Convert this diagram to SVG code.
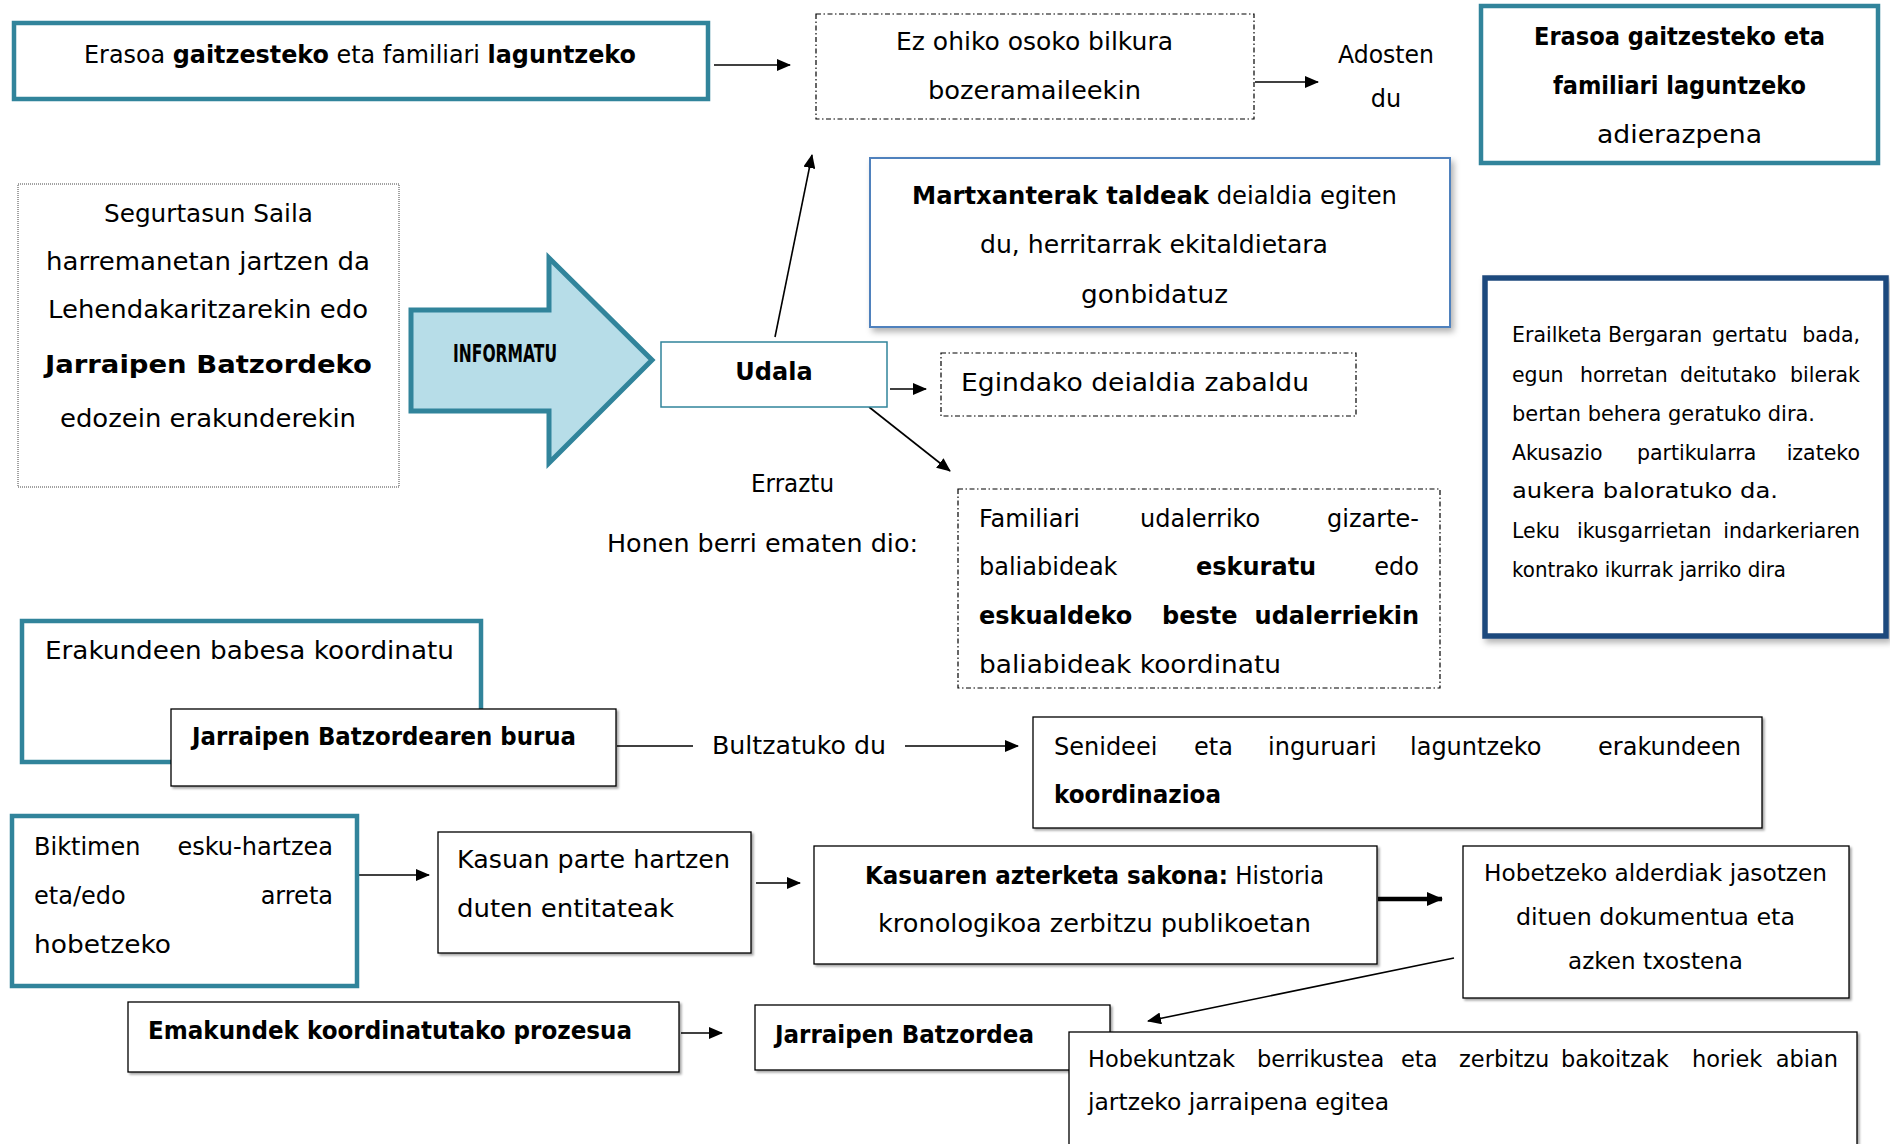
<svg xmlns="http://www.w3.org/2000/svg" width="1890" height="1144" viewBox="0 0 1890 1144">
<style>
text{font-family:"DejaVu Sans","Liberation Sans",sans-serif;font-size:24px;fill:#000}
.b{font-weight:bold}
.s{font-size:20.5px}
.m{font-size:22.5px}
.teal{fill:#fff;stroke:#31849B;stroke-width:4.5}
.thin{fill:#fff;stroke:#000;stroke-width:1.3}
.dd{fill:#fff;stroke:#000;stroke-width:1.2;stroke-dasharray:5 2.5 1.5 2.5}
.con{stroke:#000;stroke-width:1.6;fill:none}
.thick{stroke-width:4.5}
</style>
<defs>
<marker id="ah" viewBox="0 0 14 12" refX="13" refY="6" markerWidth="14" markerHeight="12" markerUnits="userSpaceOnUse" orient="auto"><path d="M0,0 L14,6 L0,12 z" fill="#000"/></marker>
<marker id="ahb" viewBox="0 0 16 14" refX="15" refY="7" markerWidth="16" markerHeight="15" markerUnits="userSpaceOnUse" orient="auto"><path d="M0,0 L16,7 L0,14 z" fill="#000"/></marker>
<filter id="sh" x="-5%" y="-5%" width="115%" height="115%"><feDropShadow dx="2" dy="2" stdDeviation="1.2" flood-color="#000" flood-opacity="0.35"/></filter>
<filter id="shl" x="-5%" y="-5%" width="115%" height="115%"><feDropShadow dx="3" dy="4" stdDeviation="3" flood-color="#000" flood-opacity="0.3"/></filter>
</defs>

<g id="connectors">
<line class="con" x1="714" y1="65" x2="790" y2="65" marker-end="url(#ah)"/>
<line class="con" x1="1255" y1="82" x2="1318" y2="82" marker-end="url(#ah)"/>
<line class="con" x1="775" y1="337" x2="812" y2="155" marker-end="url(#ah)"/>
<line class="con" x1="890" y1="389" x2="926" y2="389" marker-end="url(#ah)"/>
<line class="con" x1="869" y1="407" x2="950" y2="471" marker-end="url(#ah)"/>
<line class="con" x1="617" y1="746" x2="693" y2="746"/>
<line class="con" x1="905" y1="746" x2="1018" y2="746" marker-end="url(#ah)"/>
<line class="con" x1="358" y1="875" x2="429" y2="875" marker-end="url(#ah)"/>
<line class="con" x1="756" y1="883" x2="800" y2="883" marker-end="url(#ah)"/>
<line class="con thick" x1="1378" y1="899" x2="1442" y2="899" marker-end="url(#ahb)"/>
<line class="con" x1="1454" y1="958" x2="1148" y2="1021" marker-end="url(#ah)"/>
<line class="con" x1="681" y1="1033" x2="722" y2="1033" marker-end="url(#ah)"/>
</g>

<g id="n-erasoa">
<rect class="teal" x="14" y="23" width="694" height="76"/>
<text x="84" y="63" textLength="552" lengthAdjust="spacingAndGlyphs">Erasoa <tspan class="b">gaitzesteko</tspan> eta familiari <tspan class="b">laguntzeko</tspan></text>
</g>

<g id="n-ezohiko">
<rect class="dd" x="816" y="14" width="438" height="105"/>
<text x="896" y="50" textLength="277" lengthAdjust="spacingAndGlyphs">Ez ohiko osoko bilkura</text>
<text x="928" y="99" textLength="213" lengthAdjust="spacingAndGlyphs">bozeramaileekin</text>
</g>

<g id="n-adosten">
<text x="1338" y="63" textLength="96" lengthAdjust="spacingAndGlyphs">Adosten</text>
<text x="1386" y="107" text-anchor="middle">du</text>
</g>

<g id="n-adierazpena">
<rect class="teal" x="1481" y="6" width="397" height="157"/>
<text class="b" x="1534" y="45" textLength="291" lengthAdjust="spacingAndGlyphs">Erasoa gaitzesteko eta</text>
<text class="b" x="1553" y="94" textLength="253" lengthAdjust="spacingAndGlyphs">familiari laguntzeko</text>
<text x="1597" y="143" textLength="165" lengthAdjust="spacingAndGlyphs">adierazpena</text>
</g>

<g id="n-segurtasun">
<rect x="18" y="184" width="381" height="303" fill="#fff" stroke="#444" stroke-width="1" stroke-dasharray="1 1"/>
<text x="104" y="222" textLength="209" lengthAdjust="spacingAndGlyphs">Segurtasun Saila</text>
<text x="46" y="270" textLength="324" lengthAdjust="spacingAndGlyphs">harremanetan jartzen da</text>
<text x="48" y="318" textLength="320" lengthAdjust="spacingAndGlyphs">Lehendakaritzarekin edo</text>
<text class="b" x="45" y="373" font-size="29" textLength="327" lengthAdjust="spacingAndGlyphs">Jarraipen Batzordeko</text>
<text x="60" y="427" textLength="296" lengthAdjust="spacingAndGlyphs">edozein erakunderekin</text>
</g>

<g id="n-informatu">
<polygon points="411,310 549,310 549,258 652,360 549,463 549,411 411,411" fill="#B7DDE8" stroke="#31849B" stroke-width="5" stroke-linejoin="miter"/>
<text class="b" x="453" y="362" font-size="15" textLength="104" lengthAdjust="spacingAndGlyphs">INFORMATU</text>
</g>

<g id="n-udala">
<rect x="661" y="342" width="226" height="65" fill="#fff" stroke="#31849B" stroke-width="1.5"/>
<text class="b" x="774" y="380" text-anchor="middle">Udala</text>
</g>

<g id="n-martxanterak">
<rect x="870" y="158" width="580" height="169" fill="#fff" stroke="#4F81BD" stroke-width="2" filter="url(#shl)"/>
<text x="912" y="204" textLength="485" lengthAdjust="spacingAndGlyphs"><tspan class="b">Martxanterak taldeak</tspan> deialdia egiten</text>
<text x="980" y="253" textLength="348" lengthAdjust="spacingAndGlyphs">du, herritarrak ekitaldietara</text>
<text x="1081" y="303" textLength="147" lengthAdjust="spacingAndGlyphs">gonbidatuz</text>
</g>

<g id="n-egindako">
<rect class="dd" x="941" y="353" width="415" height="63"/>
<text x="961" y="391" textLength="348" lengthAdjust="spacingAndGlyphs">Egindako deialdia zabaldu</text>
</g>

<g id="n-erraztu">
<text x="751" y="492" textLength="83" lengthAdjust="spacingAndGlyphs">Erraztu</text>
<text x="607" y="552" textLength="311" lengthAdjust="spacingAndGlyphs">Honen berri ematen dio:</text>
</g>

<g id="n-familiari">
<rect class="dd" x="958" y="489" width="482" height="199"/>
<text y="527"><tspan x="979">Familiari </tspan><tspan x="1140">udalerriko </tspan><tspan x="1419" text-anchor="end">gizarte-</tspan></text>
<text y="575"><tspan x="979">baliabideak </tspan><tspan x="1196" class="b">eskuratu </tspan><tspan x="1419" text-anchor="end">edo</tspan></text>
<text y="624" class="b"><tspan x="979">eskualdeko </tspan><tspan x="1162">beste </tspan><tspan x="1419" text-anchor="end">udalerriekin</tspan></text>
<text x="979" y="673" textLength="302" lengthAdjust="spacingAndGlyphs">baliabideak koordinatu</text>
</g>

<g id="n-erailketa">
<rect x="1485" y="278" width="401" height="358" fill="#fff" stroke="#1F497D" stroke-width="5.5" filter="url(#shl)"/>
<text class="s" y="342"><tspan x="1512">Erailketa </tspan><tspan x="1608">Bergaran </tspan><tspan x="1712">gertatu </tspan><tspan x="1860" text-anchor="end">bada,</tspan></text>
<text class="s" y="382"><tspan x="1512">egun </tspan><tspan x="1580">horretan </tspan><tspan x="1680">deitutako </tspan><tspan x="1860" text-anchor="end">bilerak</tspan></text>
<text class="s" x="1512" y="421" textLength="303" lengthAdjust="spacingAndGlyphs">bertan behera geratuko dira.</text>
<text class="s" y="460"><tspan x="1512">Akusazio </tspan><tspan x="1637">partikularra </tspan><tspan x="1860" text-anchor="end">izateko</tspan></text>
<text class="s" x="1512" y="498" textLength="266" lengthAdjust="spacingAndGlyphs">aukera baloratuko da.</text>
<text class="s" y="538"><tspan x="1512">Leku </tspan><tspan x="1577">ikusgarrietan </tspan><tspan x="1860" text-anchor="end">indarkeriaren</tspan></text>
<text class="s" x="1512" y="577" textLength="274" lengthAdjust="spacingAndGlyphs">kontrako ikurrak jarriko dira</text>
</g>

<g id="n-erakundeen">
<rect class="teal" x="22" y="621" width="459" height="141"/>
<text x="45" y="659" textLength="409" lengthAdjust="spacingAndGlyphs">Erakundeen babesa koordinatu</text>
</g>

<g id="n-burua">
<rect class="thin" x="171" y="709" width="445" height="77" filter="url(#sh)"/>
<text class="b" x="192" y="745" textLength="384" lengthAdjust="spacingAndGlyphs">Jarraipen Batzordearen burua</text>
</g>

<g id="n-bultzatuko">
<text x="712" y="754" textLength="174" lengthAdjust="spacingAndGlyphs">Bultzatuko du</text>
</g>

<g id="n-senideei">
<rect class="thin" x="1033" y="717" width="729" height="111" filter="url(#sh)"/>
<text y="755"><tspan x="1054">Senideei </tspan><tspan x="1194">eta </tspan><tspan x="1268">inguruari </tspan><tspan x="1410">laguntzeko </tspan><tspan x="1741" text-anchor="end">erakundeen</tspan></text>
<text class="b" x="1054" y="803" textLength="167" lengthAdjust="spacingAndGlyphs">koordinazioa</text>
</g>

<g id="n-biktimen">
<rect class="teal" x="12" y="816" width="345" height="170"/>
<text y="855"><tspan x="34">Biktimen </tspan><tspan x="333" text-anchor="end">esku-hartzea</tspan></text>
<text y="904"><tspan x="34">eta/edo </tspan><tspan x="333" text-anchor="end">arreta</tspan></text>
<text x="34" y="953" textLength="137" lengthAdjust="spacingAndGlyphs">hobetzeko</text>
</g>

<g id="n-kasuan">
<rect class="thin" x="438" y="832" width="313" height="121" filter="url(#sh)"/>
<text x="457" y="868" textLength="273" lengthAdjust="spacingAndGlyphs">Kasuan parte hartzen</text>
<text x="457" y="917" textLength="217" lengthAdjust="spacingAndGlyphs">duten entitateak</text>
</g>

<g id="n-kasuaren">
<rect class="thin" x="814" y="846" width="563" height="118" filter="url(#sh)"/>
<text x="865" y="884" textLength="459" lengthAdjust="spacingAndGlyphs"><tspan class="b">Kasuaren azterketa sakona:</tspan> Historia</text>
<text x="878" y="932" textLength="433" lengthAdjust="spacingAndGlyphs">kronologikoa zerbitzu publikoetan</text>
</g>

<g id="n-hobetzeko">
<rect class="thin" x="1463" y="846" width="386" height="152" filter="url(#sh)"/>
<text class="m" x="1484" y="881" textLength="343" lengthAdjust="spacingAndGlyphs">Hobetzeko alderdiak jasotzen</text>
<text class="m" x="1516" y="925" textLength="279" lengthAdjust="spacingAndGlyphs">dituen dokumentua eta</text>
<text class="m" x="1568" y="969" textLength="175" lengthAdjust="spacingAndGlyphs">azken txostena</text>
</g>

<g id="n-emakunde">
<rect class="thin" x="128" y="1002" width="551" height="70" filter="url(#sh)"/>
<text class="b" x="148" y="1039" textLength="484" lengthAdjust="spacingAndGlyphs">Emakundek koordinatutako prozesua</text>
</g>

<g id="n-jarraipen">
<rect class="thin" x="755" y="1005" width="355" height="65" filter="url(#sh)"/>
<text class="b" x="775" y="1043" textLength="259" lengthAdjust="spacingAndGlyphs">Jarraipen Batzordea</text>
</g>

<g id="n-hobekuntzak">
<rect class="thin" x="1069" y="1032" width="788" height="130" filter="url(#sh)"/>
<text class="m" y="1067"><tspan x="1088">Hobekuntzak </tspan><tspan x="1257">berrikustea </tspan><tspan x="1401">eta </tspan><tspan x="1459">zerbitzu </tspan><tspan x="1561">bakoitzak </tspan><tspan x="1692">horiek </tspan><tspan x="1838" text-anchor="end">abian</tspan></text>
<text class="m" x="1088" y="1110" textLength="301" lengthAdjust="spacingAndGlyphs">jartzeko jarraipena egitea</text>
</g>
</svg>
